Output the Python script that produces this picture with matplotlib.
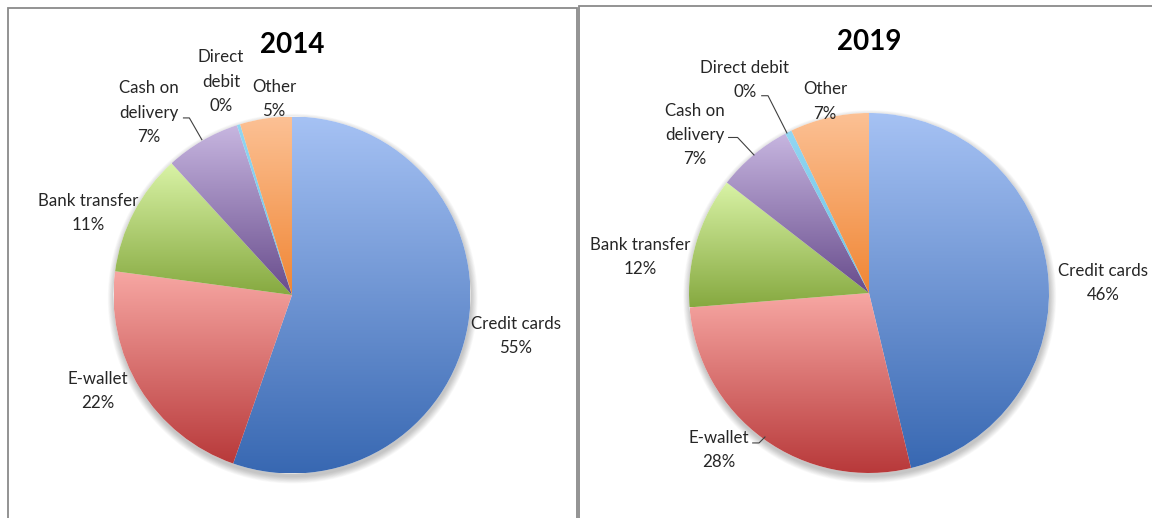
import numpy as np
import matplotlib
matplotlib.use("Agg")
import matplotlib.pyplot as plt
from matplotlib.patches import Rectangle, Circle
from matplotlib.colors import to_rgb

plt.rcParams['font.family'] = ['Lato', 'DejaVu Sans']

# ---------------- data ----------------
categories = ["Credit cards", "E-wallet", "Bank transfer", "Cash on delivery", "Direct debit", "Other"]
share_2014 = [55.4, 21.8, 11.1, 6.8, 0.3, 4.7]
share_2019 = [46.3, 27.5, 11.8, 6.8, 0.6, 7.1]
shown_pct_2014 = [55, 22, 11, 7, 0, 5]
shown_pct_2019 = [46, 28, 12, 7, 0, 7]
label_text_2014 = ["Credit cards", "E-wallet", "Bank transfer", "Cash on\ndelivery", "Direct\ndebit", "Other"]
label_text_2019 = ["Credit cards", "E-wallet", "Bank transfer", "Cash on\ndelivery", "Direct debit", "Other"]
years = ["2014", "2019"]

# ---------------- styles / layout ----------------
grad_top = ["#a6c2f4", "#f7a7a3", "#d9f3a6", "#c7b6e0", "#92d6f2", "#fcc195"]
grad_bot = ["#3868b2", "#b8393a", "#86a940", "#684c8c", "#6cc3e6", "#f08634"]

W, H = 1152, 518
fig = plt.figure(figsize=(W / 100, H / 100), dpi=100)

# panel borders (pixel coords converted to figure fraction)
def px_rect(x0, y0, x1, y1):
    return Rectangle((x0 / W, 1 - y1 / H), (x1 - x0) / W, (y1 - y0) / H,
                     transform=fig.transFigure, fill=False, ec="#8a8a8a", lw=1.3)

fig.patches.append(px_rect(8, 8, 577, 530))
fig.patches.append(px_rect(579, 6, 1160, 530))

# pie centres and radii in pixels
pie_geom = [(292, 295, 178.5), (869, 293, 180)]

label_pos = [
    [(1.255, -0.229), (-1.087, -0.538), (-1.143, 0.458), (-0.801, 1.020), (-0.398, 1.195), (-0.101, 1.098)],
    [(1.300, 0.056), (-0.836, -0.872), (-1.272, 0.200), (-0.967, 0.878), (-0.689, 1.183), (-0.244, 1.064)],
]
leaders = [
    {3: [(-0.608, 0.992), (-0.575, 0.992), (-0.505, 0.870)]},
    {1: [(-0.646, -0.833), (-0.611, -0.833), (-0.578, -0.800)],
     3: [(-0.780, 0.864), (-0.730, 0.864), (-0.639, 0.767)],
     4: [(-0.596, 1.096), (-0.561, 1.096), (-0.456, 0.889)]},
]

all_shares = [share_2014, share_2019]
all_pct = [shown_pct_2014, shown_pct_2019]
all_text = [label_text_2014, label_text_2019]


def gradient_fill(ax, wedge, ctop, cbot):
    ext = wedge.get_path().get_extents()
    n = 256
    t = np.linspace(0, 1, n)[:, None]
    c0 = np.array(to_rgb(ctop))
    c1 = np.array(to_rgb(cbot))
    img = (1 - t)[:, :, None] * c0[None, None, :] + t[:, :, None] * c1[None, None, :]
    im = ax.imshow(img, extent=(ext.x0, ext.x1, ext.y0, ext.y1), origin="upper",
                   aspect="auto", interpolation="bilinear", zorder=2)
    im.set_clip_path(wedge)


for k in range(2):
    cx, cy, R = pie_geom[k]
    ax = fig.add_axes([(cx - R) / W, (H - cy - R) / H, 2 * R / W, 2 * R / H])
    # soft shadow
    for i in range(10):
        ax.add_patch(Circle((0.004, -0.02), 1.0 + 0.004 * i, color="black",
                            alpha=0.022, lw=0, zorder=0, clip_on=False))
    wedges, _ = ax.pie(all_shares[k], startangle=90, counterclock=False, radius=1,
                       wedgeprops=dict(lw=0, zorder=1))
    for i, w in enumerate(wedges):
        w.set_facecolor("white")
        gradient_fill(ax, w, grad_top[i], grad_bot[i])
    ax.set_xlim(-1, 1)
    ax.set_ylim(-1, 1)
    ax.set_aspect("auto")
    ax.axis("off")

    for i in range(len(categories)):
        x, y = label_pos[k][i]
        ax.text(x, y, f"{all_text[k][i]}\n{all_pct[k][i]}%", ha="center", va="center",
                fontsize=12.2, color="#262626", linespacing=1.65, clip_on=False, zorder=5)
    for i, pts in leaders[k].items():
        xs, ys = zip(*pts)
        ax.plot(xs, ys, color="#404040", lw=0.8, clip_on=False, zorder=5)

    ax.text(0, 1.40 if k == 0 else 1.394, years[k], ha="center", va="center",
            fontsize=20, fontweight="bold", color="black", clip_on=False)

fig.savefig("out.png", dpi=100)
